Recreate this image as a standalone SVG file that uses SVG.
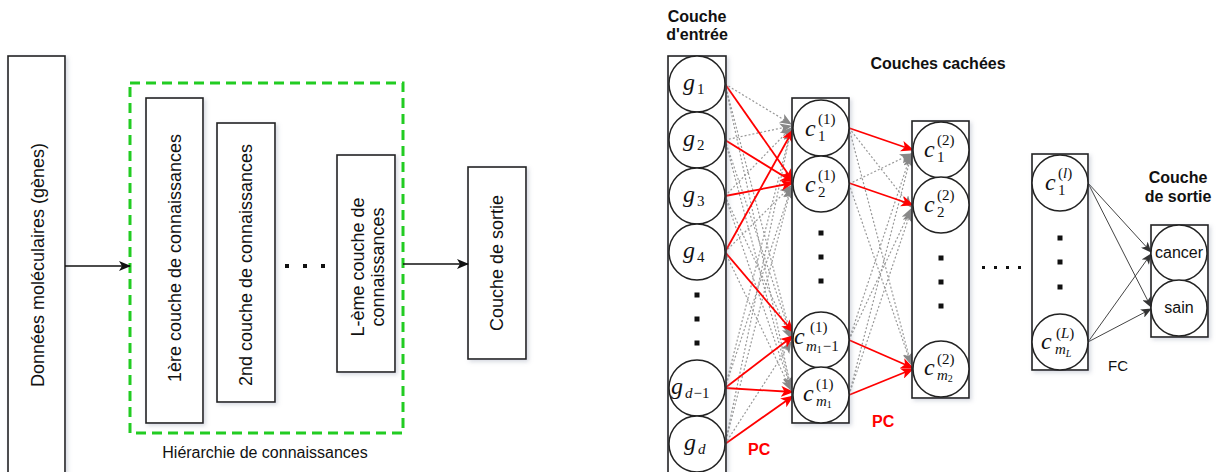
<svg xmlns="http://www.w3.org/2000/svg" width="1217" height="472" viewBox="0 0 1217 472">
<style>
.box{fill:#fff;stroke:#222;stroke-width:1.6;filter:url(#sh)}
.nb{fill:#fff;stroke:#222;stroke-width:1.5}
.t{font-family:"Liberation Sans",Arial,sans-serif;fill:#111}
.lbl{font-family:"Liberation Sans",Arial,sans-serif;font-size:18px;fill:#111;text-anchor:middle}
.h{font-family:"Liberation Sans",Arial,sans-serif;font-size:16px;font-weight:bold;fill:#111;text-anchor:middle}
.pc{font-family:"Liberation Sans",Arial,sans-serif;font-size:16px;font-weight:bold;fill:#f00}
.mi{font-family:"Liberation Serif","Times New Roman",serif;font-style:italic;font-size:24px;fill:#111}
.s{font-family:"Liberation Serif","Times New Roman",serif;font-size:15px;fill:#111}
.it{font-style:italic}
.dot{fill:#111}
.red{stroke:#f00;stroke-width:1.8;fill:none}
.gd{stroke:#999;stroke-width:1.2;stroke-dasharray:2 2;fill:none}
.fc{stroke:#444;stroke-width:1;fill:none}
.blk{stroke:#111;stroke-width:1.3;fill:none}
</style>
<defs>
<filter id="sh" x="-20%" y="-20%" width="140%" height="140%"><feDropShadow dx="2" dy="2" stdDeviation="2" flood-color="#8890a8" flood-opacity="0.35"/></filter>
<marker id="mb" viewBox="0 0 12 10" refX="11" refY="5" markerWidth="12" markerHeight="10" markerUnits="userSpaceOnUse" orient="auto"><path d="M0,0 L12,5 L0,10 L3,5 z" fill="#111"/></marker>
<marker id="mr" viewBox="0 0 12 10" refX="11" refY="5" markerWidth="13" markerHeight="11" markerUnits="userSpaceOnUse" orient="auto"><path d="M0,0 L12,5 L0,10 L3,5 z" fill="#f00"/></marker>
<marker id="mg" viewBox="0 0 12 10" refX="11" refY="5" markerWidth="12" markerHeight="10" markerUnits="userSpaceOnUse" orient="auto"><path d="M0,0 L12,5 L0,10 L3,5 z" fill="#888"/></marker>
<marker id="mf" viewBox="0 0 12 10" refX="11" refY="5" markerWidth="11" markerHeight="9" markerUnits="userSpaceOnUse" orient="auto"><path d="M0,0 L12,5 L0,10 L3,5 z" fill="#333"/></marker>
</defs>

<!-- LEFT DIAGRAM -->
<g id="donnees">
<rect class="box" x="8" y="56" width="57" height="430"/>
<text class="lbl" transform="translate(44,265) rotate(-90)">Données moléculaires (gènes)</text>
</g>
<g id="hierarchie">
<rect x="130" y="83" width="273" height="350" fill="none" stroke="#22cc22" stroke-width="3" stroke-dasharray="10 6"/>
<text class="t" x="265" y="458" font-size="16" text-anchor="middle">Hiérarchie de connaissances</text>
</g>
<g id="couche1">
<rect class="box" x="146" y="98" width="57" height="325"/>
<text class="lbl" transform="translate(181,258) rotate(-90)">1ère couche de connaissances</text>
</g>
<g id="couche2">
<rect class="box" x="217" y="123" width="58" height="279"/>
<text class="lbl" transform="translate(252,265) rotate(-90)">2nd couche de connaissances</text>
</g>
<g id="dots-left">
<rect class="dot" x="285" y="264" width="4" height="4"/>
<rect class="dot" x="303" y="264" width="4" height="4"/>
<rect class="dot" x="321" y="264" width="4" height="4"/>
</g>
<g id="coucheL">
<rect class="box" x="337" y="155" width="58" height="217"/>
<text class="lbl" transform="translate(364,267) rotate(-90)">L-ème couche de</text>
<text class="lbl" transform="translate(384,267) rotate(-90)">connaissances</text>
</g>
<g id="sortie-left">
<rect class="box" x="468" y="167" width="58" height="192"/>
<text class="lbl" transform="translate(503,263) rotate(-90)">Couche de sortie</text>
</g>
<g id="connectors-left">
<line class="blk" x1="65" y1="266" x2="130" y2="266" marker-end="url(#mb)"/>
<line class="blk" x1="403" y1="264" x2="468" y2="264" marker-end="url(#mb)"/>
</g>

<!-- RIGHT DIAGRAM -->
<g id="titles">
<text class="h" x="697" y="22">Couche</text>
<text class="h" x="697" y="40">d'entrée</text>
<text class="h" x="938" y="69">Couches cachées</text>
<text class="h" x="1178" y="183">Couche</text>
<text class="h" x="1178" y="202">de sortie</text>
</g>

<g id="connectors">
<g class="gd" marker-end="url(#mg)">
<line x1="725" y1="84" x2="791" y2="124"/>
<line x1="725" y1="84" x2="791" y2="336"/>
<line x1="725" y1="84" x2="791" y2="388"/>
<line x1="725" y1="140" x2="791" y2="126"/>
<line x1="725" y1="140" x2="791" y2="336"/>
<line x1="725" y1="140" x2="791" y2="388"/>
<line x1="725" y1="196" x2="791" y2="128"/>
<line x1="725" y1="196" x2="791" y2="338"/>
<line x1="725" y1="196" x2="791" y2="388"/>
<line x1="725" y1="252" x2="791" y2="186"/>
<line x1="725" y1="252" x2="791" y2="390"/>
<line x1="725" y1="388" x2="791" y2="130"/>
<line x1="725" y1="388" x2="791" y2="188"/>
<line x1="725" y1="444" x2="791" y2="130"/>
<line x1="725" y1="444" x2="791" y2="188"/>
<line x1="725" y1="444" x2="791" y2="342"/>
</g>
<g class="gd" marker-end="url(#mg)">
<line x1="849" y1="128" x2="911" y2="207"/>
<line x1="849" y1="128" x2="911" y2="364"/>
<line x1="849" y1="184" x2="911" y2="154"/>
<line x1="849" y1="184" x2="911" y2="364"/>
<line x1="849" y1="340" x2="911" y2="154"/>
<line x1="849" y1="340" x2="911" y2="209"/>
<line x1="849" y1="395" x2="911" y2="156"/>
<line x1="849" y1="395" x2="911" y2="211"/>
</g>
<g class="red" marker-end="url(#mr)">
<line x1="725" y1="84" x2="793" y2="181"/>
<line x1="725" y1="140" x2="793" y2="182"/>
<line x1="725" y1="196" x2="793" y2="183"/>
<line x1="725" y1="252" x2="793" y2="130"/>
<line x1="725" y1="252" x2="793" y2="332"/>
<line x1="725" y1="388" x2="793" y2="336"/>
<line x1="725" y1="388" x2="793" y2="392"/>
<line x1="725" y1="444" x2="793" y2="396"/>
</g>
<g class="red" marker-end="url(#mr)">
<line x1="849" y1="128" x2="913" y2="150"/>
<line x1="849" y1="183" x2="913" y2="205"/>
<line x1="849" y1="340" x2="913" y2="368"/>
<line x1="849" y1="395" x2="913" y2="369"/>
</g>
<g class="fc" marker-end="url(#mf)">
<line x1="1088" y1="183" x2="1151" y2="252"/>
<line x1="1088" y1="183" x2="1151" y2="307"/>
<line x1="1088" y1="342" x2="1151" y2="254"/>
<line x1="1088" y1="342" x2="1151" y2="309"/>
</g>
<text class="pc" x="748" y="455">PC</text>
<text class="pc" x="872" y="427">PC</text>
<text class="t" x="1108" y="371" font-size="15">FC</text>
<g id="dots-right" class="dot">
<rect x="982" y="266" width="3" height="3"/>
<rect x="994" y="266" width="3" height="3"/>
<rect x="1006" y="266" width="3" height="3"/>
<rect x="1018" y="266" width="3" height="3"/>
</g>
</g>

<g id="input-layer">
<rect class="box" x="668" y="56" width="58" height="430"/>
<circle class="nb" cx="697" cy="84" r="28"/>
<circle class="nb" cx="697" cy="140" r="28"/>
<circle class="nb" cx="697" cy="196" r="28"/>
<circle class="nb" cx="697" cy="252" r="28"/>
<circle class="nb" cx="697" cy="388" r="28"/>
<circle class="nb" cx="697" cy="444" r="28"/>
<rect class="dot" x="694.5" y="292.5" width="5" height="5"/>
<rect class="dot" x="694.5" y="316.5" width="5" height="5"/>
<rect class="dot" x="694.5" y="340.5" width="5" height="5"/>
<text class="mi" x="683" y="90">g</text><text class="s" x="697" y="94">1</text>
<text class="mi" x="683" y="146">g</text><text class="s" x="697" y="150">2</text>
<text class="mi" x="683" y="202">g</text><text class="s" x="697" y="206">3</text>
<text class="mi" x="683" y="258">g</text><text class="s" x="697" y="262">4</text>
<text class="mi" x="671" y="394">g</text><text class="s" x="685" y="398"><tspan class="it">d</tspan><tspan dx="1">−1</tspan></text>
<text class="mi" x="684" y="450">g</text><text class="s it" x="698" y="454">d</text>
</g>

<g id="hidden-layer-1">
<rect class="box" x="792" y="98" width="57" height="325"/>
<circle class="nb" cx="821" cy="128" r="28"/>
<circle class="nb" cx="821" cy="184" r="28"/>
<circle class="nb" cx="821" cy="340" r="28"/>
<circle class="nb" cx="821" cy="395" r="28"/>
<rect class="dot" x="818.5" y="230.5" width="5" height="5"/>
<rect class="dot" x="818.5" y="254.5" width="5" height="5"/>
<rect class="dot" x="818.5" y="278.5" width="5" height="5"/>
<text class="mi" x="805" y="136">c</text><text class="s" x="818" y="124" font-size="14">(1)</text><text class="s" x="818" y="141" font-size="14">1</text>
<text class="mi" x="805" y="192">c</text><text class="s" x="818" y="180" font-size="14">(1)</text><text class="s" x="818" y="197" font-size="14">2</text>
<text class="mi" x="794" y="344">c</text><text class="s" x="810" y="332" font-size="14">(1)</text><text class="s" x="806" y="351" font-size="14"><tspan class="it">m</tspan><tspan font-size="10" dy="2">1</tspan><tspan dx="1" dy="-2">−1</tspan></text>
<text class="mi" x="803" y="401">c</text><text class="s" x="816" y="389" font-size="14">(1)</text><text class="s" x="816" y="406" font-size="14"><tspan class="it">m</tspan><tspan font-size="10" dy="2">1</tspan></text>
</g>

<g id="hidden-layer-2">
<rect class="box" x="912" y="121" width="57" height="277"/>
<circle class="nb" cx="941" cy="150" r="28"/>
<circle class="nb" cx="941" cy="205" r="28"/>
<circle class="nb" cx="941" cy="369" r="28"/>
<rect class="dot" x="938.5" y="255.5" width="5" height="5"/>
<rect class="dot" x="938.5" y="279.5" width="5" height="5"/>
<rect class="dot" x="938.5" y="303.5" width="5" height="5"/>
<text class="mi" x="924" y="157">c</text><text class="s" x="937" y="145" font-size="14">(2)</text><text class="s" x="937" y="162" font-size="14">1</text>
<text class="mi" x="924" y="212">c</text><text class="s" x="937" y="200" font-size="14">(2)</text><text class="s" x="937" y="217" font-size="14">2</text>
<text class="mi" x="924" y="375">c</text><text class="s" x="937" y="364" font-size="14">(2)</text><text class="s" x="937" y="380" font-size="14"><tspan class="it">m</tspan><tspan font-size="10" dy="2">2</tspan></text>
</g>

<g id="hidden-layer-L">
<rect class="box" x="1032" y="154" width="56" height="216"/>
<circle class="nb" cx="1060" cy="183" r="28"/>
<circle class="nb" cx="1060" cy="342" r="28"/>
<rect class="dot" x="1057.5" y="235.5" width="5" height="5"/>
<rect class="dot" x="1057.5" y="259.5" width="5" height="5"/>
<rect class="dot" x="1057.5" y="284.5" width="5" height="5"/>
<text class="mi" x="1045" y="190">c</text><text class="s" x="1058" y="178" font-size="14">(<tspan class="it">l</tspan>)</text><text class="s" x="1058" y="195" font-size="14">1</text>
<text class="mi" x="1041" y="349">c</text><text class="s" x="1056" y="338" font-size="14">(<tspan class="it">L</tspan>)</text><text class="s" x="1055" y="354" font-size="14"><tspan class="it">m</tspan><tspan class="it" font-size="10" dy="3">L</tspan></text>
</g>

<g id="output-layer">
<rect class="box" x="1151" y="225" width="57" height="112"/>
<circle class="nb" cx="1179" cy="253" r="28"/>
<circle class="nb" cx="1179" cy="308" r="28"/>
<text class="t" x="1179" y="258" font-size="16" text-anchor="middle">cancer</text>
<text class="t" x="1179" y="313" font-size="16" text-anchor="middle">sain</text>
</g>
</svg>
